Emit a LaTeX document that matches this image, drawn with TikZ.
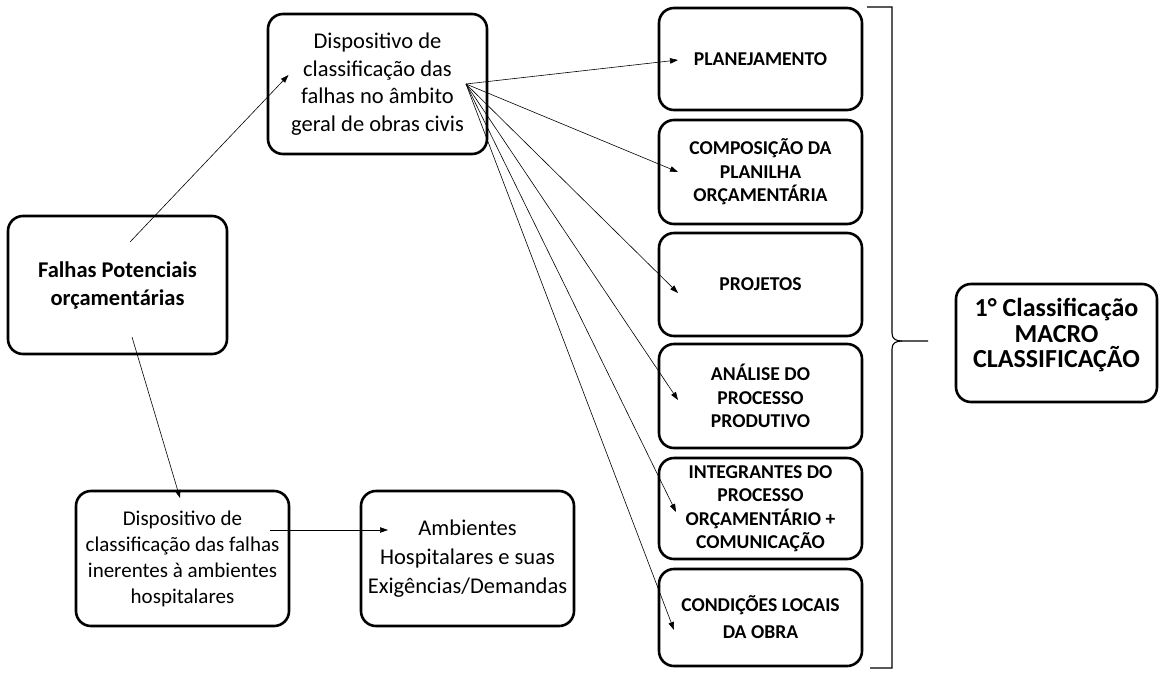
\documentclass[tikz,border=0pt]{standalone}
\usepackage{fontspec}
\setmainfont{Carlito}
\usetikzlibrary{arrows.meta,calc}

\tikzset{
  caixa/.style={draw, line width=2.6pt, rounded corners=15pt, align=center, inner sep=0pt, outer sep=0pt},
  grande/.style={caixa, font=\fontsize{21}{26}\selectfont},
  item/.style={caixa, minimum width=203pt, font=\bfseries\fontsize{19.6}{23.5}\selectfont},
  seta/.style={->, line width=0.6pt},
}

\begin{document}
\begin{tikzpicture}[x=1pt, y=-1pt, >={Triangle[length=8pt,width=5.5pt]}]
\useasboundingbox (0,0) rectangle (1164,675);

% caixas da esquerda
\node [grande, minimum width=219pt, minimum height=138pt, font=\bfseries\fontsize{22.5}{28}\selectfont] (falhas) at (117.5,285) {Falhas Potenciais\\orçamentárias};
\node [grande, minimum width=219pt, minimum height=140pt, font=\fontsize{22.5}{27.5}\selectfont] (geral) at (377.5,84) {Dispositivo de\\classificação das\\falhas no âmbito\\geral de obras civis};
\node [grande, minimum width=213pt, minimum height=135pt] (hosp) at (182.5,558.5) {Dispositivo de\\classificação das falhas\\inerentes à ambientes\\hospitalares};
\node [grande, minimum width=213pt, minimum height=135pt, font=\fontsize{22.5}{29}\selectfont] (amb) at (467.5,558.5) {Ambientes\\Hospitalares e suas\\Exigências/Demandas};

% coluna da direita
\node [item, minimum height=102pt] (plan) at (760.5,59) {PLANEJAMENTO};
\node [item, minimum height=104pt] (compos) at (760.5,172) {COMPOSIÇÃO DA\\PLANILHA\\ORÇAMENTÁRIA};
\node [item, minimum height=103pt] (proj) at (760.5,284.5) {PROJETOS};
\node [item, minimum height=104pt] (anal) at (760.5,396) {ANÁLISE DO\\PROCESSO\\PRODUTIVO};
\node [item, minimum height=101pt] (integ) at (760.5,508.5) {INTEGRANTES DO\\PROCESSO\\ORÇAMENTÁRIO +\\COMUNICAÇÃO};
\node [item, minimum height=97pt, font=\bfseries\fontsize{19.6}{27}\selectfont] (cond) at (760.5,617.5) {CONDIÇÕES LOCAIS\\DA OBRA};

\node [caixa, minimum width=201pt, minimum height=118pt, text depth=20pt, font=\bfseries\fontsize{26}{25.5}\selectfont] (macro) at (1056.5,343) {1° Classificação\\MACRO\\CLASSIFICAÇÃO};

% chave
\draw [line width=1.1pt] (867,7) -- (892,7) -- (892,333) .. controls (892,339) and (896,341) .. (902,341) -- (928,341);
\draw [line width=1.1pt] (902,341) .. controls (896,341) and (892,343) .. (892,349) -- (892,668) -- (870,668);

% setas
\coordinate (hub) at (466,84);
\draw [seta] ([xshift=12.5pt,yshift=43pt]falhas.center) -- ([xshift=-89pt,yshift=9pt]geral.center);
\draw [seta] ([xshift=14.5pt,yshift=-52pt]falhas.center) -- ([xshift=-2.5pt,yshift=-7pt]hosp.north);
\draw [seta] ([xshift=87.5pt,yshift=28.5pt]hosp.center) -- ([xshift=-79.5pt,yshift=28.5pt]amb.center);

\draw [seta] (hub) -- ([xshift=19pt,yshift=-1pt]plan.west);
\draw [seta] (hub) -- ([xshift=19pt]compos.west);
\draw [seta] (hub) -- ([xshift=19pt,yshift=-8.5pt]proj.west);
\draw [seta] (hub) -- ([xshift=19pt,yshift=-4pt]anal.west);
\draw [seta] (hub) -- ([xshift=17pt,yshift=-3.5pt]integ.west);
\draw [seta] (hub) -- ([xshift=15pt,yshift=-12.5pt]cond.west);
\end{tikzpicture}
\end{document}
